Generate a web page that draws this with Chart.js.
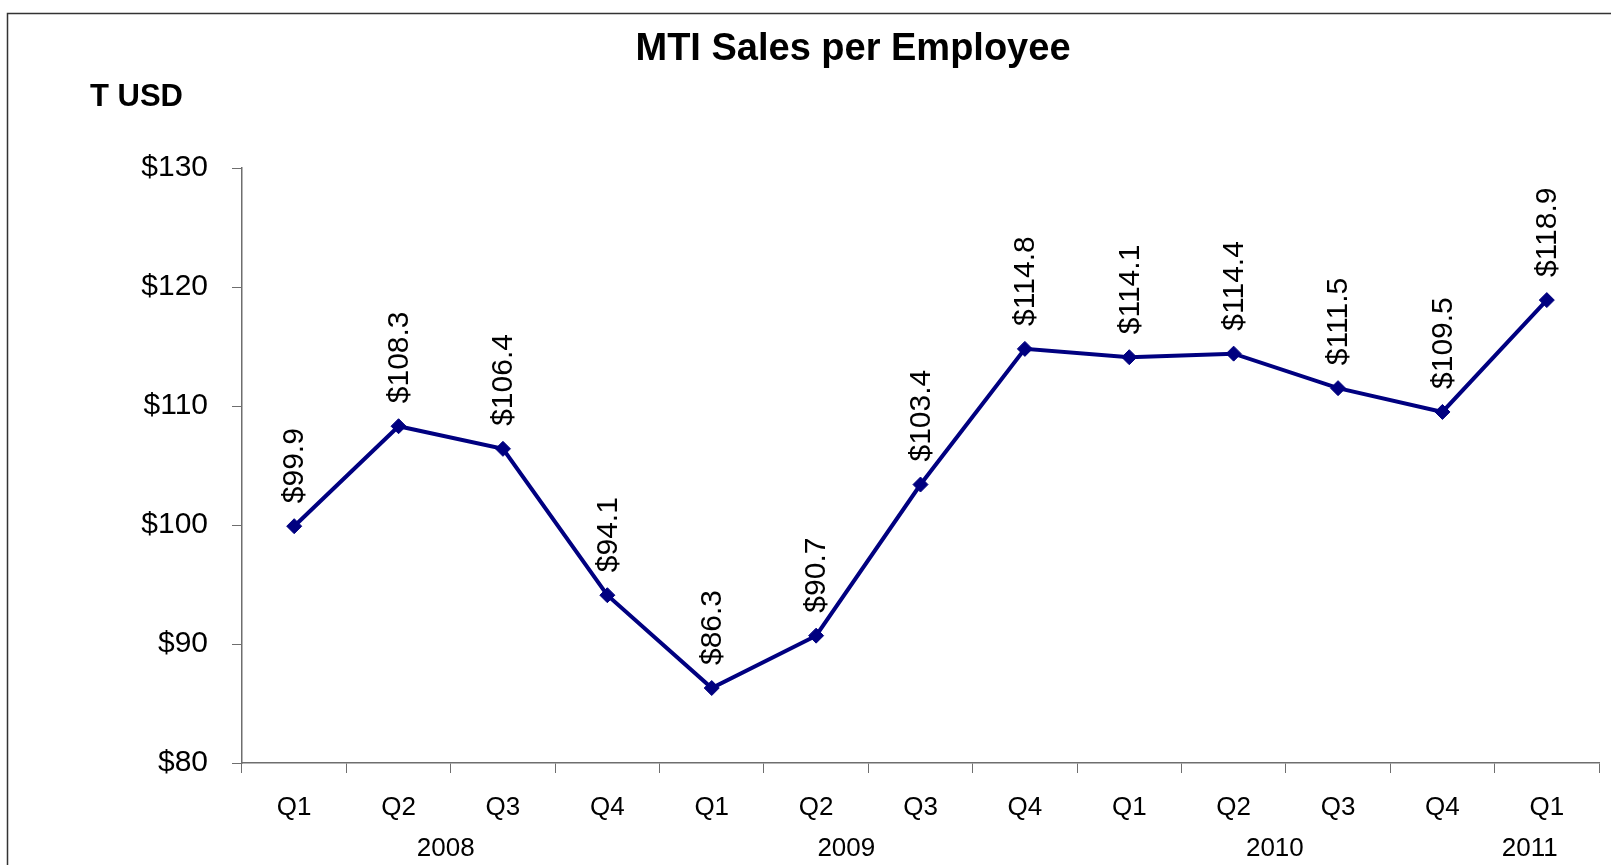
<!DOCTYPE html>
<html>
<head>
<meta charset="utf-8">
<script src="https://cdn.jsdelivr.net/npm/chart.js@4.4.1/dist/chart.umd.min.js"></script>
<style>
  html, body { margin: 0; padding: 0; background: #ffffff; }
  #wrap { width: 1611px; height: 865px; }
</style>
</head>
<body>
<div id="wrap"><canvas id="c" width="1611" height="865"></canvas></div>
<script>
const chartTitle = 'MTI Sales per Employee';
const unitLabel = 'T USD';
const quarters = ['Q1','Q2','Q3','Q4','Q1','Q2','Q3','Q4','Q1','Q2','Q3','Q4','Q1'];
const salesPerEmployee = [99.9, 108.3, 106.4, 94.1, 86.3, 90.7, 103.4, 114.8, 114.1, 114.4, 111.5, 109.5, 118.9];
const yearLabels = ['2008', '2009', '2010', '2011'];
const yearFirstIndex = [0, 4, 8, 12];
const yearLastIndex = [3, 7, 11, 12];
const yMin = 80, yMax = 130, yStep = 10;

const FONT = "'Liberation Sans', Arial, sans-serif";
const AXIS = '#6e6e6e';
const LINE = '#000080';
const YEAR_SHIFT = [-5, -22, -11, -17];

const decorPlugin = {
  id: 'decor',
  afterDraw(chart) {
    const ctx = chart.ctx;
    ctx.save();
    // frame
    ctx.strokeStyle = '#333333';
    ctx.lineWidth = 1.5;
    ctx.strokeRect(7.5, 13.5, 1640, 900);
    // title
    ctx.fillStyle = '#000';
    ctx.textAlign = 'center';
    ctx.textBaseline = 'middle';
    ctx.font = 'bold 38px ' + FONT;
    ctx.fillText(chartTitle, 853, 50);
    // unit
    ctx.textAlign = 'left';
    ctx.font = 'bold 31px ' + FONT;
    ctx.fillText(unitLabel, 90, 97);
    // year labels
    const xs = chart.scales.x;
    ctx.textAlign = 'center';
    ctx.font = '26px ' + FONT;
    yearLabels.forEach((yl, i) => {
      const a = xs.getPixelForValue(yearFirstIndex[i]);
      const b = xs.getPixelForValue(yearLastIndex[i]);
      ctx.fillText(yl, (a + b) / 2 + YEAR_SHIFT[i], 849);
    });
    // data labels
    const meta = chart.getDatasetMeta(0);
    ctx.font = '30px ' + FONT;
    ctx.textAlign = 'left';
    ctx.textBaseline = 'middle';
    meta.data.forEach((pt, i) => {
      ctx.save();
      ctx.translate(pt.x, pt.y - 23);
      ctx.rotate(-Math.PI / 2);
      ctx.fillText('$' + salesPerEmployee[i].toFixed(1), 0, 1);
      ctx.restore();
    });
    ctx.restore();
  }
};

new Chart(document.getElementById('c'), {
  type: 'line',
  data: {
    labels: quarters,
    datasets: [{
      data: salesPerEmployee,
      borderColor: LINE,
      backgroundColor: LINE,
      borderWidth: 4,
      pointStyle: 'rectRot',
      pointRadius: 7.5,
      pointBorderWidth: 1,
      pointBackgroundColor: LINE,
      pointBorderColor: LINE,
      tension: 0,
      fill: false
    }]
  },
  options: {
    responsive: false,
    devicePixelRatio: 1,
    animation: false,
    layout: { padding: { top: 168, left: 0, right: 12, bottom: 0 } },
    plugins: {
      legend: { display: false },
      title: { display: false },
      tooltip: { enabled: false }
    },
    scales: {
      x: {
        type: 'category',
        offset: true,
        afterFit(scale) { scale.height = 102; },
        grid: {
          display: true,
          drawOnChartArea: false,
          drawTicks: true,
          offset: true,
          tickLength: 10,
          color: AXIS,
          lineWidth: 1
        },
        border: { display: true, color: AXIS, width: 1.5 },
        ticks: {
          color: '#000',
          font: { family: FONT, size: 26 },
          padding: 19,
          maxRotation: 0,
          autoSkip: false
        }
      },
      y: {
        min: yMin,
        max: yMax,
        afterFit(scale) { scale.width = 242; },
        grid: {
          display: true,
          drawOnChartArea: false,
          drawTicks: true,
          tickLength: 10,
          color: AXIS,
          lineWidth: 1
        },
        border: { display: true, color: AXIS, width: 1.5 },
        ticks: {
          stepSize: yStep,
          color: '#000',
          font: { family: FONT, size: 30 },
          padding: 24,
          callback: v => '$' + v
        }
      }
    }
  },
  plugins: [decorPlugin]
});
</script>
</body>
</html>
